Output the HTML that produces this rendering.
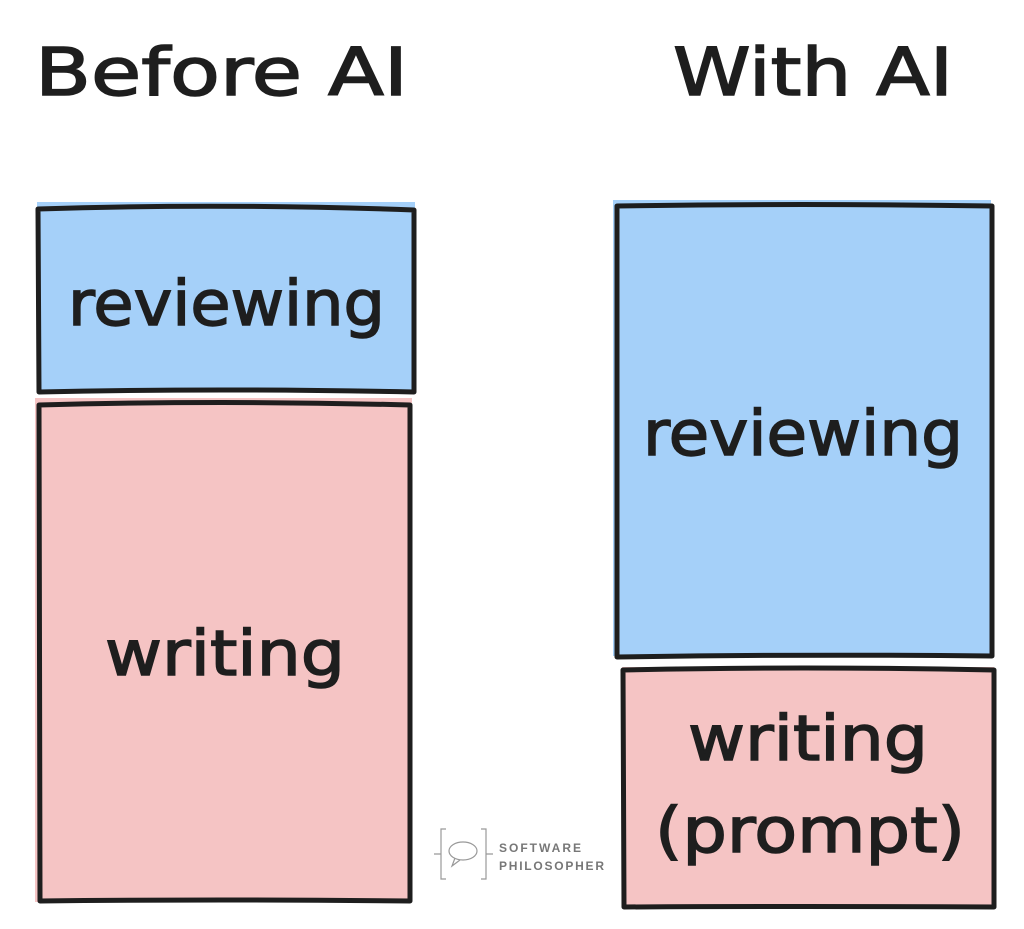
<!DOCTYPE html>
<html><head><meta charset="utf-8"><style>
html,body{margin:0;padding:0;background:#fff;}
svg{display:block}
text{font-family:"DejaVu Sans","Liberation Sans",sans-serif;fill:#1e1e1e}
.h{stroke:#1e1e1e;stroke-width:1.5}
</style></head><body>
<svg width="1024" height="929" viewBox="0 0 1024 929">
<rect x="37" y="202" width="378" height="190" fill="#a5d0f9"/>
<rect x="35" y="398" width="377" height="504" fill="#f5c4c4"/>
<rect x="613" y="200" width="378" height="456" fill="#a5d0f9"/>
<rect x="622" y="667" width="372" height="240" fill="#f5c4c4"/>
<g fill="none" stroke="#1e1e1e" stroke-width="5" stroke-linejoin="round">
<path d="M38 209 Q220 203 414 210 L414 392 Q220 388 39 392 Z"/>
<path d="M39 405 Q220 400 410 405 L410 901 Q220 899 40 901 Z"/>
<path d="M617 206 Q800 203 992 206 L992 656 Q800 654 617 657 Z"/>
<path d="M623 670 Q800 666 994 670 L994 907 Q800 906 624 907 Z"/>
</g>
<text class="h" x="35" y="95" font-size="66" textLength="373" lengthAdjust="spacingAndGlyphs">Before AI</text>
<text class="h" x="673" y="95" font-size="66" textLength="280" lengthAdjust="spacingAndGlyphs">With AI</text>
<text class="h" x="68" y="325" font-size="62" textLength="317" lengthAdjust="spacingAndGlyphs">reviewing</text>
<text class="h" x="643" y="455" font-size="62" textLength="320" lengthAdjust="spacingAndGlyphs">reviewing</text>
<text class="h" x="105" y="675" font-size="62" textLength="240" lengthAdjust="spacingAndGlyphs">writing</text>
<text class="h" x="688" y="760" font-size="62" textLength="240" lengthAdjust="spacingAndGlyphs">writing</text>
<text class="h" x="655" y="852" font-size="62" textLength="310" lengthAdjust="spacingAndGlyphs">(prompt)</text>
<g fill="none" stroke="#999" stroke-width="1.2">
<path d="M446 829 h-5 v50 h5 M481 829 h5 v50 h-5 M434 854 h7 M486 854 h7"/>
<ellipse cx="463" cy="851" rx="14" ry="9"/>
<path d="M455 858 l-3 8 l8 -6"/>
</g>
<text x="499" y="852" font-size="12" font-weight="bold" style="fill:#777;font-family:'Liberation Sans',sans-serif" textLength="82">SOFTWARE</text>
<text x="499" y="870" font-size="12" font-weight="bold" style="fill:#777;font-family:'Liberation Sans',sans-serif" textLength="105">PHILOSOPHER</text>
</svg>
</body></html>
